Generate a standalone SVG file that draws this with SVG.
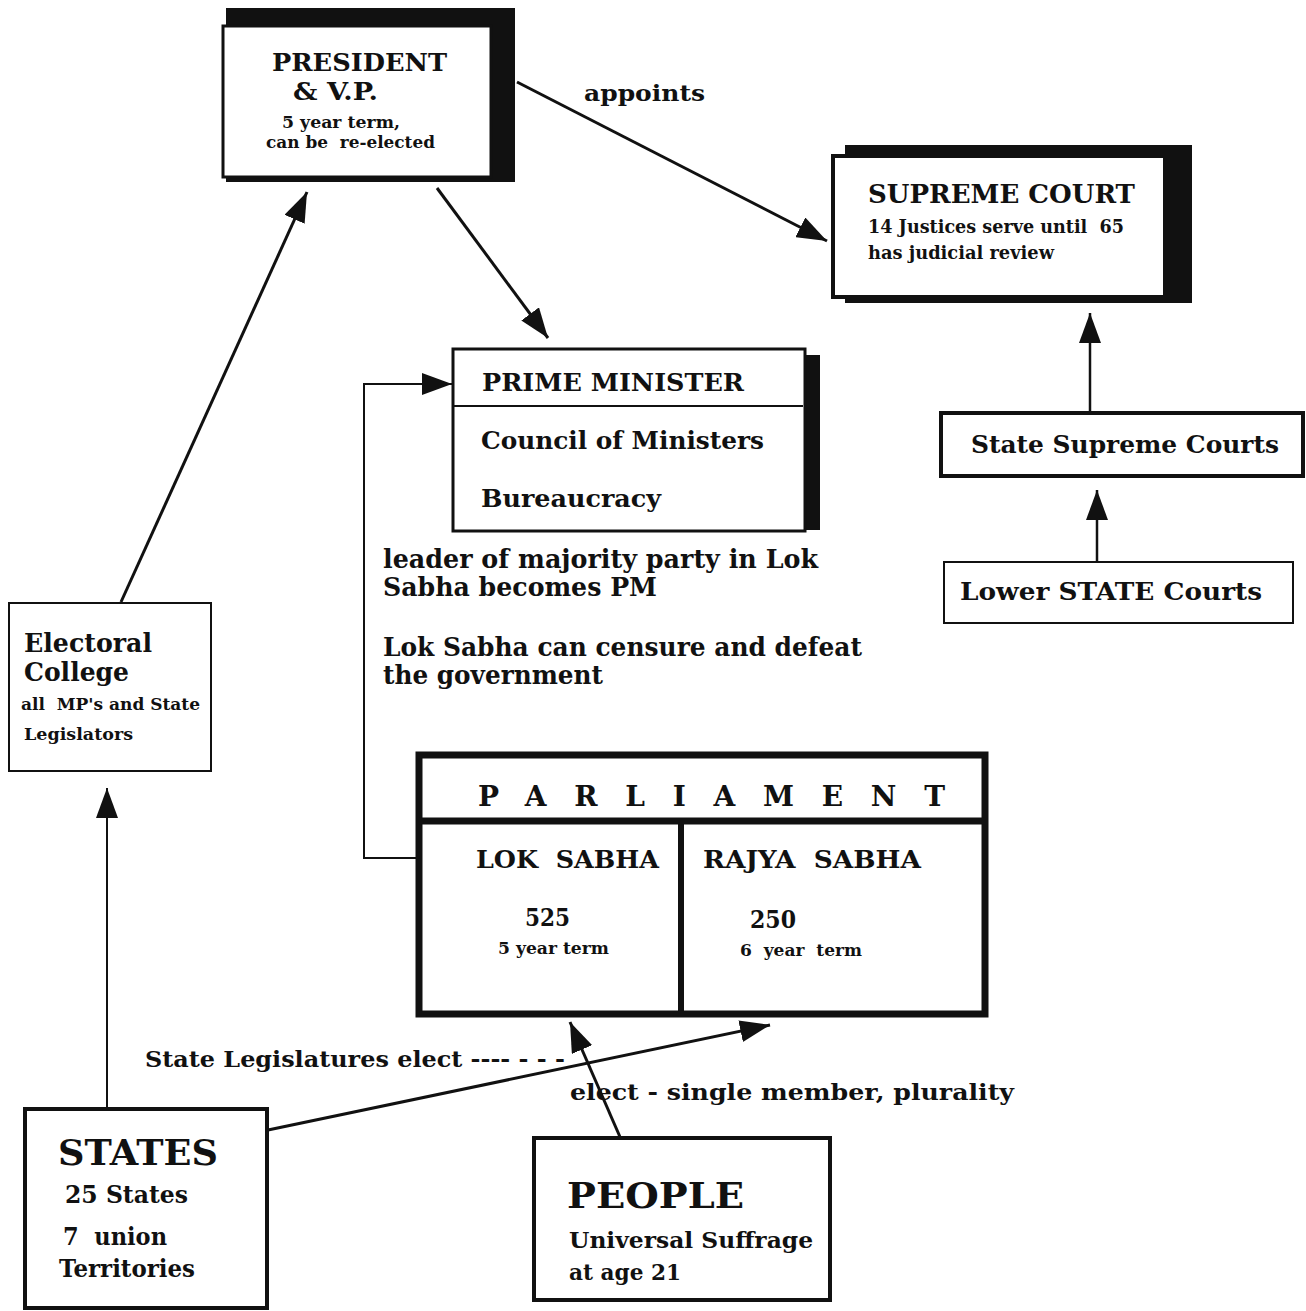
<svg xmlns="http://www.w3.org/2000/svg" width="1306" height="1311" viewBox="0 0 1306 1311">
<style>
text{font-family:"DejaVu Serif","Liberation Serif",serif;font-weight:bold;fill:#111;white-space:pre}
.box{fill:#fff;stroke:#111}
.sh{fill:#111}
.c{stroke:#111;fill:none}
</style>
<defs>
<marker id="ah" viewBox="0 0 30 22" refX="30" refY="11" markerWidth="30" markerHeight="22" markerUnits="userSpaceOnUse" orient="auto">
<path d="M0,0 L30,11 L0,22 Z" fill="#111"/>
</marker>
</defs>
<rect width="1306" height="1311" fill="#fff"/>

<g id="connectors">
<line class="c" stroke-width="3" x1="517" y1="82" x2="827" y2="241" marker-end="url(#ah)"/>
<line class="c" stroke-width="3" x1="437" y1="188" x2="548" y2="338" marker-end="url(#ah)"/>
<line class="c" stroke-width="3" x1="121" y1="602" x2="307" y2="192" marker-end="url(#ah)"/>
<line class="c" stroke-width="2" x1="107" y1="1108" x2="107" y2="788" marker-end="url(#ah)"/>
<polyline class="c" stroke-width="2" points="416,858 364,858 364,384 452,384" marker-end="url(#ah)"/>
<line class="c" stroke-width="2.5" x1="1090" y1="411" x2="1090" y2="313" marker-end="url(#ah)"/>
<line class="c" stroke-width="2.5" x1="1097" y1="562" x2="1097" y2="490" marker-end="url(#ah)"/>
<line class="c" stroke-width="3" x1="268" y1="1130" x2="770" y2="1025" marker-end="url(#ah)"/>
<line class="c" stroke-width="3" x1="620" y1="1137" x2="570" y2="1022" marker-end="url(#ah)"/>
<text x="584" y="101" font-size="22" textLength="121" lengthAdjust="spacingAndGlyphs">appoints</text>
<text x="145" y="1067" font-size="22" textLength="420" lengthAdjust="spacingAndGlyphs">State Legislatures elect ---- - - -</text>
<text x="570" y="1100" font-size="23" textLength="444" lengthAdjust="spacingAndGlyphs">elect - single member, plurality</text>
</g>

<g id="president">
<rect class="sh" x="226" y="8" width="289" height="174"/>
<rect class="box" x="223" y="26" width="268" height="151" stroke-width="3"/>
<text x="272" y="71" font-size="25" textLength="175" lengthAdjust="spacingAndGlyphs">PRESIDENT</text>
<text x="293" y="100" font-size="25" textLength="85" lengthAdjust="spacingAndGlyphs">&amp; V.P.</text>
<text x="282" y="128" font-size="16" textLength="118" lengthAdjust="spacingAndGlyphs">5 year term,</text>
<text x="266" y="148" font-size="16" textLength="169" lengthAdjust="spacingAndGlyphs">can be  re-elected</text>
</g>

<g id="supreme-court">
<rect class="sh" x="845" y="145" width="347" height="158"/>
<rect class="box" x="833" y="156" width="332" height="141" stroke-width="4"/>
<text x="868" y="203" font-size="26" textLength="267" lengthAdjust="spacingAndGlyphs">SUPREME COURT</text>
<text x="868" y="233" font-size="18" textLength="256" lengthAdjust="spacingAndGlyphs">14 Justices serve until  65</text>
<text x="868" y="259" font-size="18" textLength="186" lengthAdjust="spacingAndGlyphs">has judicial review</text>
</g>

<g id="prime-minister">
<rect class="sh" x="805" y="355" width="15" height="175"/>
<rect class="box" x="453" y="349" width="352" height="182" stroke-width="3"/>
<line class="c" stroke-width="2" x1="453" y1="406" x2="803" y2="406"/>
<text x="482" y="391" font-size="24" textLength="262" lengthAdjust="spacingAndGlyphs">PRIME MINISTER</text>
<text x="481" y="449" font-size="24" textLength="283" lengthAdjust="spacingAndGlyphs">Council of Ministers</text>
<text x="481" y="507" font-size="24" textLength="180" lengthAdjust="spacingAndGlyphs">Bureaucracy</text>
</g>

<g id="notes">
<text x="383" y="568" font-size="26" textLength="435" lengthAdjust="spacingAndGlyphs">leader of majority party in Lok</text>
<text x="383" y="596" font-size="26" textLength="274" lengthAdjust="spacingAndGlyphs">Sabha becomes PM</text>
<text x="383" y="656" font-size="26" textLength="479" lengthAdjust="spacingAndGlyphs">Lok Sabha can censure and defeat</text>
<text x="383" y="684" font-size="26" textLength="220" lengthAdjust="spacingAndGlyphs">the government</text>
</g>

<g id="state-supreme-courts">
<rect class="box" x="941" y="413" width="362" height="63" stroke-width="4"/>
<text x="971" y="453" font-size="24" textLength="308" lengthAdjust="spacingAndGlyphs">State Supreme Courts</text>
</g>

<g id="lower-state-courts">
<rect class="box" x="944" y="562" width="349" height="61" stroke-width="2"/>
<text x="960" y="600" font-size="24" textLength="302" lengthAdjust="spacingAndGlyphs">Lower STATE Courts</text>
</g>

<g id="electoral-college">
<rect class="box" x="9" y="603" width="202" height="168" stroke-width="2"/>
<text x="24" y="652" font-size="26" textLength="128" lengthAdjust="spacingAndGlyphs">Electoral</text>
<text x="24" y="681" font-size="26" textLength="105" lengthAdjust="spacingAndGlyphs">College</text>
<text x="21" y="710" font-size="17" textLength="179" lengthAdjust="spacingAndGlyphs">all  MP's and State</text>
<text x="24" y="740" font-size="17" textLength="109" lengthAdjust="spacingAndGlyphs">Legislators</text>
</g>

<g id="parliament">
<rect class="box" x="419" y="755" width="566" height="259" stroke-width="7"/>
<line class="c" stroke-width="7" x1="419" y1="821" x2="985" y2="821"/>
<line class="c" stroke-width="6" x1="681" y1="821" x2="681" y2="1014"/>
<text x="478" y="806" font-size="28" textLength="467" lengthAdjust="spacing">PARLIAMENT</text>
<text x="476" y="868" font-size="24" textLength="183" lengthAdjust="spacingAndGlyphs">LOK  SABHA</text>
<text x="703" y="868" font-size="24" textLength="218" lengthAdjust="spacingAndGlyphs">RAJYA  SABHA</text>
<text x="525" y="926" font-size="24" textLength="45" lengthAdjust="spacingAndGlyphs">525</text>
<text x="498" y="954" font-size="17" textLength="111" lengthAdjust="spacingAndGlyphs">5 year term</text>
<text x="750" y="928" font-size="24" textLength="46" lengthAdjust="spacingAndGlyphs">250</text>
<text x="740" y="956" font-size="17" textLength="122" lengthAdjust="spacingAndGlyphs">6  year  term</text>
</g>

<g id="states">
<rect class="box" x="25" y="1109" width="242" height="199" stroke-width="4"/>
<text x="58" y="1165" font-size="36" textLength="160" lengthAdjust="spacingAndGlyphs">STATES</text>
<text x="65" y="1203" font-size="24" textLength="123" lengthAdjust="spacingAndGlyphs">25 States</text>
<text x="63" y="1245" font-size="24" textLength="104" lengthAdjust="spacingAndGlyphs">7  union</text>
<text x="59" y="1277" font-size="24" textLength="136" lengthAdjust="spacingAndGlyphs">Territories</text>
</g>

<g id="people">
<rect class="box" x="534" y="1138" width="296" height="162" stroke-width="4"/>
<text x="567" y="1208" font-size="36" textLength="177" lengthAdjust="spacingAndGlyphs">PEOPLE</text>
<text x="569" y="1248" font-size="22" textLength="244" lengthAdjust="spacingAndGlyphs">Universal Suffrage</text>
<text x="569" y="1280" font-size="22" textLength="112" lengthAdjust="spacingAndGlyphs">at age 21</text>
</g>
</svg>
